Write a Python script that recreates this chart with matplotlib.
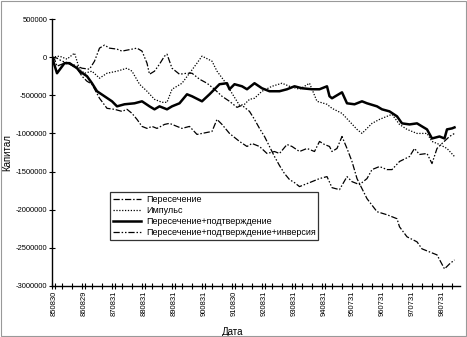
import numpy as np
import matplotlib
matplotlib.use('Agg')
from matplotlib import pyplot as plt
from matplotlib.ticker import FixedLocator, MultipleLocator, FuncFormatter
from matplotlib.patches import Rectangle

plt.rcParams['font.family'] = ['Liberation Sans', 'DejaVu Sans']

# капитал в тысячах, ось X - номер месяца от 850830
m_cross = [0, 1, 2, 5, 7, 10, 12, 14, 16, 19, 22, 25, 28, 30, 32, 34, 36, 38, 40, 42,
           45, 47, 50, 52, 55, 58, 60, 64, 66, 68, 71, 75, 78, 80, 83, 86, 89, 91, 94,
           96, 99, 102, 105, 107, 109, 111, 112, 114, 116, 118, 120, 122, 124, 126,
           130, 134, 138, 139, 142, 146, 148, 151, 154, 157, 159, 161]
v_cross = [0, -26, -118, -79, -92, -145, -250, -316, -355, -539, -671, -684, -711, -684,
           -737, -816, -908, -934, -908, -934, -882, -868, -908, -934, -908, -1013, -1000,
           -974, -816, -882, -1000, -1105, -1171, -1132, -1171, -1263, -1237, -1263,
           -1145, -1171, -1237, -1197, -1237, -1105, -1145, -1171, -1237, -1197, -1040,
           -1197, -1368, -1592, -1724, -1855, -2026, -2066, -2118, -2224, -2355, -2421,
           -2513, -2553, -2592, -2776, -2711, -2658]

m_imp = [0, 3, 6, 9, 11, 13, 16, 19, 22, 26, 30, 32, 35, 38, 41, 44, 46, 48, 52, 55,
         58, 60, 64, 66, 69, 72, 75, 77, 79, 81, 84, 88, 92, 95, 99, 103, 106, 110, 112,
         116, 119, 122, 124, 126, 128, 131, 134, 136, 139, 142, 146, 150, 152, 155, 158,
         161]
v_imp = [0, 13, -26, 53, -158, -211, -184, -276, -211, -184, -145, -184, -355, -447,
         -553, -592, -592, -421, -342, -211, -79, 13, -53, -184, -316, -474, -632, -618,
         -553, -539, -447, -382, -342, -382, -421, -342, -579, -618, -671, -737, -842,
         -947, -1000, -934, -868, -816, -776, -750, -882, -947, -1000, -1000, -1105,
         -1145, -1197, -1303]

m_conf = [0, 2, 5, 7, 10, 11, 14, 16, 18, 21, 24, 26, 29, 33, 36, 39, 41, 43, 46, 48,
          51, 54, 56, 60, 63, 65, 67, 70, 71, 73, 76, 78, 81, 84, 87, 91, 94, 97, 100,
          104, 107, 110, 111, 112, 116, 118, 121, 124, 126, 130, 132, 135, 138, 140,
          143, 146, 148, 150, 152, 155, 157, 158, 160, 161]
v_conf = [0, -211, -79, -79, -145, -184, -250, -342, -447, -513, -579, -645, -618, -605,
          -579, -645, -684, -645, -684, -645, -605, -487, -513, -579, -487, -421, -355,
          -342, -421, -355, -382, -421, -342, -408, -447, -447, -421, -382, -408, -421,
          -421, -382, -513, -539, -461, -605, -618, -579, -605, -645, -684, -711, -776,
          -868, -882, -868, -908, -947, -1066, -1040, -1066, -947, -934, -921]

m_inv = [0, 2, 4, 7, 10, 12, 15, 17, 19, 21, 23, 26, 28, 30, 32, 34, 36, 38, 39, 41,
         43, 45, 46, 48, 51, 54, 56, 59, 62, 65, 68, 71, 74, 76, 79, 81, 83, 85, 87, 89,
         91, 93, 95, 97, 99, 101, 104, 107, 110, 112, 115, 118, 120, 123, 126, 128, 131,
         134, 136, 139, 143, 145, 147, 150, 152, 154, 156, 159, 161]
v_inv = [0, -13, -53, -79, -118, -145, -158, -53, 118, 158, 118, 105, 79, 92, 105, 118,
         79, -79, -224, -184, -92, 13, 39, -145, -224, -211, -211, -289, -342, -421, -513,
         -579, -658, -632, -711, -816, -934, -1040, -1171, -1303, -1421, -1526, -1605,
         -1645, -1697, -1671, -1632, -1592, -1566, -1711, -1737, -1566, -1632, -1671,
         -1592, -1474, -1434, -1474, -1474, -1368, -1303, -1197, -1276, -1263, -1395,
         -1197, -1132, -1040, -1000]

names = ['Пересечение', 'Импульс', 'Пересечение+подтверждение',
         'Пересечение+подтверждение+инверсия']

tick_pos = [1, 13, 25, 37, 49, 61, 73, 85, 97, 109, 120, 132, 144, 156]
tick_lbl = ['850830', '860829', '870831', '880831', '890831', '900831', '910830',
            '920831', '930831', '940831', '950731', '960731', '970731', '980731']

fig = plt.figure(figsize=(4.67, 3.37), dpi=100)
ax = fig.add_axes([52 / 467, 1 - 286 / 337, 407.5 / 467, 267 / 337])

ax.plot(m_cross, np.array(v_cross) * 1000, color='black', lw=0.9,
        dashes=(5, 1.5, 1.2, 1.5), label=names[0])
ax.plot(m_imp, np.array(v_imp) * 1000, color='black', lw=0.9,
        dashes=(1, 1.3), label=names[1])
ax.plot(m_conf, np.array(v_conf) * 1000, color='black', lw=1.8,
        solid_joinstyle='round', label=names[2])
ax.plot(m_inv, np.array(v_inv) * 1000, color='black', lw=0.9,
        dashes=(5, 1.5, 1.2, 1.5, 1.2, 1.5), label=names[3])

ax.set_xlim(0, 163)
ax.set_ylim(-3000000, 500000)
ax.yaxis.set_major_locator(MultipleLocator(500000))
ax.yaxis.set_major_formatter(FuncFormatter(lambda v, p: '%d' % v))
ax.xaxis.set_major_locator(FixedLocator(tick_pos))
ax.set_xticklabels(tick_lbl, rotation=90)
ax.xaxis.set_minor_locator(MultipleLocator(4))

for s in ['top', 'right']:
    ax.spines[s].set_visible(False)
for s in ['left', 'bottom']:
    ax.spines[s].set_linewidth(1.0)

ax.tick_params(axis='both', which='both', direction='inout', width=0.8,
               labelsize=5.5, pad=1.5)
ax.tick_params(axis='both', which='major', length=4)
ax.tick_params(axis='x', which='minor', length=4)

ax.set_ylabel('Капитал', fontsize=7, labelpad=2)
ax.set_xlabel('Дата', fontsize=7)
ax.xaxis.set_label_coords(0.444, -0.154)

leg = ax.legend(loc='upper left', bbox_to_anchor=(0.142, 0.352), borderaxespad=0,
                fontsize=6.5, frameon=True, fancybox=False, handlelength=3.2,
                handletextpad=0.5, labelspacing=0.25, borderpad=0.3)
leg.get_frame().set_edgecolor('black')
leg.get_frame().set_linewidth(0.9)

fig.patches.append(Rectangle((0.002, 0.003), 0.995, 0.994, transform=fig.transFigure,
                             fill=False, edgecolor='#999999', lw=0.8))

fig.savefig('out.png', dpi=100)
